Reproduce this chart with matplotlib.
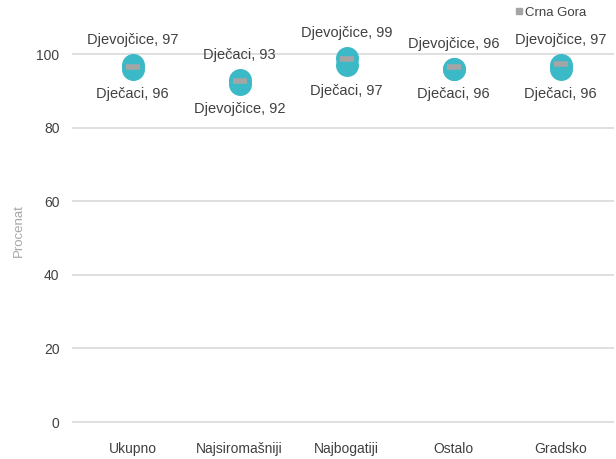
import matplotlib
matplotlib.use("Agg")
import matplotlib.pyplot as plt
from matplotlib.lines import Line2D

plt.rcParams['font.family'] = ['Liberation Sans', 'DejaVu Sans']

categories = ['Ukupno', 'Najsiromašniji', 'Najbogatiji', 'Ostalo', 'Gradsko']
djevojcice = [97, 92, 99, 96, 97]
djecaci = [96, 93, 97, 96, 96]
crna_gora = [96.5, 92.7, 98.6, 96.4, 97.2]

teal = '#3BB9C6'
gray = '#A5A5A5'
txt = '#404040'

fig = plt.figure(figsize=(6.16, 4.59), dpi=100)
# axes placed so that 0 sits at y=422px and 100 at y=54px
ax = fig.add_axes([72 / 616, (459 - 429.4) / 459, 542 / 616, 397.4 / 459])

x = list(range(len(categories)))
ax.plot(x, djevojcice, 'o', color=teal, markersize=15.5, zorder=3)
ax.plot(x, djecaci, 'o', color=teal, markersize=15.5, zorder=3)
ax.plot(x, crna_gora, '_', color=gray, markersize=10, markeredgewidth=4, zorder=4)

for i in x:
    g, b = djevojcice[i], djecaci[i]
    if g >= b:
        top, bot = ('Djevojčice, %d' % g), ('Dječaci, %d' % b)
    else:
        top, bot = ('Dječaci, %d' % b), ('Djevojčice, %d' % g)
    ax.annotate(top, (i, max(g, b)), xytext=(0, 18), textcoords='offset points',
                ha='center', va='center', fontsize=10.5, color=txt)
    ax.annotate(bot, (i, min(g, b)), xytext=(0, -18.5), textcoords='offset points',
                ha='center', va='center', fontsize=10.5, color=txt)

ax.set_xlim(-0.5 - 7 / 107, 4.5)
ax.set_ylim(-2, 106)
ax.set_yticks([0, 20, 40, 60, 80, 100])
ax.set_xticks(x)
ax.set_xticklabels(categories)
ax.tick_params(axis='both', length=0, labelsize=10, colors=txt)
ax.tick_params(axis='y', pad=9)
ax.tick_params(axis='x', pad=9)
ax.grid(axis='y', color='#D9D9D9', linewidth=1.2, zorder=0)
ax.set_axisbelow(True)
for s in ax.spines.values():
    s.set_visible(False)
ax.set_ylabel('Procenat', color='#A6A6A6', fontsize=9.5, labelpad=8)

handle = Line2D([], [], marker='s', linestyle='none', color=gray, markersize=4)
fig.legend([handle], ['Crna Gora'], loc='center', bbox_to_anchor=(550 / 616, 1 - 13 / 459),
           frameon=False, fontsize=9.5, handletextpad=0.1, handlelength=0.8,
           labelcolor=txt)

fig.savefig('out.png', dpi=100)
